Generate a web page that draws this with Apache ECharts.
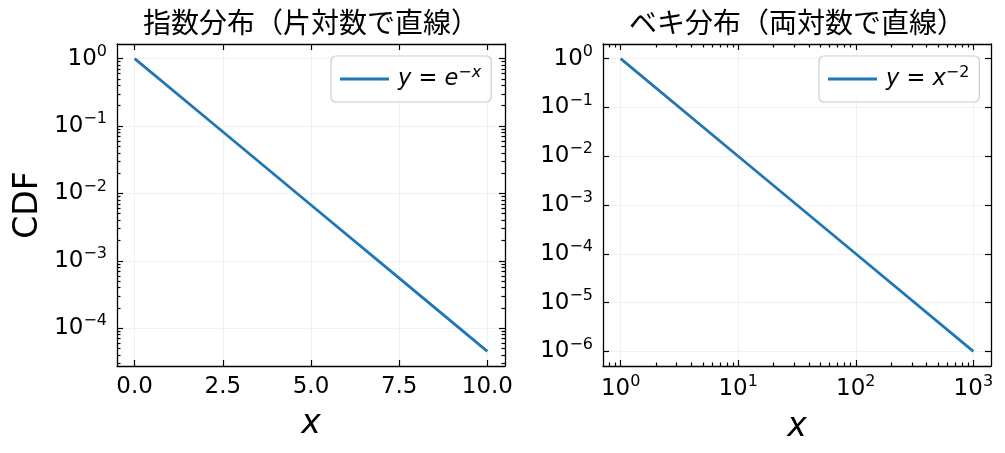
<!DOCTYPE html>
<html>
<head>
<meta charset="utf-8">
<script src="https://cdn.jsdelivr.net/npm/echarts@6/dist/echarts.min.js"></script>
<style>html,body{margin:0;padding:0;background:#fff}#c{width:1005px;height:453px}</style>
</head>
<body>
<div id="c"></div>
<script>
// ---- data ----
const expX = [0, 2.5, 5, 7.5, 10];
const expY = [1, 0.0821, 0.00674, 0.000553, 0.0000454];
const powX = [1, 10, 100, 1000];
const powY = [1, 0.01, 0.0001, 0.000001];

// ---- tick values ----
const leftXTicks = [0, 2.5, 5, 7.5, 10];
const leftYTicks = [1e-4, 1e-3, 1e-2, 1e-1, 1];
const rightXTicks = [1, 10, 100, 1000];
const rightYTicks = [1e-6, 1e-5, 1e-4, 1e-3, 1e-2, 1e-1, 1];
const minorMult = [2, 3, 4, 5, 6, 7, 8, 9];

const titles = ['指数分布（片対数で直線）', 'ベキ分布（両対数で直線）'];
const seriesNames = ['y = e^{-x}', 'y = x^{-2}'];
const legendRich = {
  'y = e^{-x}': '{p|}{i|y} = {i|e}{s|−x}',
  'y = x^{-2}': '{p|}{i|y} = {i|x}{t|−2}'
};

// ranges
const leftXRange = [-0.5, 10.5];
const leftYRange = [2.75e-5, 1.648];
const rightXRange = [0.708, 1413];
const rightYRange = [5.01e-7, 1.995];

function minors(majorsDecades, lo, hi) {
  const out = [];
  majorsDecades.forEach(d => minorMult.forEach(m => {
    const v = Number((m * Math.pow(10, d)).toPrecision(3));
    if (v > lo && v < hi) out.push(v);
  }));
  return out;
}
const leftYMinor = minors([-5, -4, -3, -2, -1, 0], leftYRange[0], leftYRange[1]);
const rightXMinor = minors([-1, 0, 1, 2, 3], rightXRange[0], rightXRange[1]);

const FONT = 'DejaVu Sans';
const BLACK = '#000';
const GRIDC = '#f1f1f1';
const TF = 23;
const SF = 16;

function logLabel(v) {
  const e = Math.round(Math.log10(v));
  return '{b|10}{s|' + (e < 0 ? '−' : '') + Math.abs(e) + '}';
}
const labelRich = {
  b: { fontFamily: FONT, fontSize: TF, color: BLACK, lineHeight: 30 },
  s: { fontFamily: FONT, fontSize: SF, color: BLACK, lineHeight: 14, verticalAlign: 'top' }
};

function axisBase(o) {
  return Object.assign({
    axisLine: { show: true, onZero: false, lineStyle: { color: BLACK, width: 1.3 } },
    axisTick: { show: true, inside: true, length: 6, lineStyle: { color: BLACK, width: 1.2 } },
    axisLabel: { show: false },
    splitLine: { show: false },
    splitArea: { show: false },
    minorTick: { show: false },
    minorSplitLine: { show: false }
  }, o);
}
function ticks(vals, len) {
  return { show: true, inside: true, length: len, customValues: vals, lineStyle: { color: BLACK, width: 1.2 } };
}

const xAxes = [
  axisBase({ gridIndex: 0, type: 'value', position: 'bottom', min: leftXRange[0], max: leftXRange[1],
    axisTick: ticks(leftXTicks, 6),
    axisLabel: { show: true, customValues: leftXTicks, margin: 10, fontFamily: FONT, fontSize: TF, color: BLACK,
      formatter: v => v.toFixed(1) },
    splitLine: { show: true, lineStyle: { color: GRIDC, width: 1 } },
    name: 'x', nameLocation: 'middle', nameGap: 42,
    nameTextStyle: { fontFamily: FONT, fontStyle: 'italic', fontSize: 33, color: BLACK } }),
  axisBase({ gridIndex: 0, type: 'value', position: 'top', min: leftXRange[0], max: leftXRange[1],
    axisTick: ticks(leftXTicks, 6) }),
  axisBase({ gridIndex: 1, type: 'log', position: 'bottom', min: rightXRange[0], max: rightXRange[1],
    axisTick: ticks(rightXTicks, 6),
    axisLabel: { show: true, customValues: rightXTicks, margin: 8, formatter: logLabel, rich: labelRich },
    splitLine: { show: true, lineStyle: { color: GRIDC, width: 1 } },
    name: 'x', nameLocation: 'middle', nameGap: 45,
    nameTextStyle: { fontFamily: FONT, fontStyle: 'italic', fontSize: 33, color: BLACK } }),
  axisBase({ gridIndex: 1, type: 'log', position: 'bottom', min: rightXRange[0], max: rightXRange[1],
    axisLine: { show: false, onZero: false }, axisTick: ticks(rightXMinor, 3.5) }),
  axisBase({ gridIndex: 1, type: 'log', position: 'top', min: rightXRange[0], max: rightXRange[1],
    axisTick: ticks(rightXTicks, 6) }),
  axisBase({ gridIndex: 1, type: 'log', position: 'top', min: rightXRange[0], max: rightXRange[1],
    axisLine: { show: false, onZero: false }, axisTick: ticks(rightXMinor, 3.5) })
];

const yAxes = [
  axisBase({ gridIndex: 0, type: 'log', position: 'left', min: leftYRange[0], max: leftYRange[1],
    axisTick: ticks(leftYTicks, 6),
    axisLabel: { show: true, customValues: leftYTicks, margin: 10, formatter: logLabel, rich: labelRich },
    splitLine: { show: true, lineStyle: { color: GRIDC, width: 1 } },
    name: 'CDF', nameLocation: 'middle', nameGap: 72, nameRotate: 90,
    nameTextStyle: { fontFamily: FONT, fontSize: 33, color: BLACK } }),
  axisBase({ gridIndex: 0, type: 'log', position: 'left', min: leftYRange[0], max: leftYRange[1],
    axisLine: { show: false, onZero: false }, axisTick: ticks(leftYMinor, 3.5) }),
  axisBase({ gridIndex: 0, type: 'log', position: 'right', min: leftYRange[0], max: leftYRange[1],
    axisTick: ticks(leftYTicks, 6) }),
  axisBase({ gridIndex: 0, type: 'log', position: 'right', min: leftYRange[0], max: leftYRange[1],
    axisLine: { show: false, onZero: false }, axisTick: ticks(leftYMinor, 3.5) }),
  axisBase({ gridIndex: 1, type: 'log', position: 'left', min: rightYRange[0], max: rightYRange[1],
    axisTick: ticks(rightYTicks, 6),
    axisLabel: { show: true, customValues: rightYTicks, margin: 10, formatter: logLabel, rich: labelRich },
    splitLine: { show: true, lineStyle: { color: GRIDC, width: 1 } } }),
  axisBase({ gridIndex: 1, type: 'log', position: 'right', min: rightYRange[0], max: rightYRange[1],
    axisTick: ticks(rightYTicks, 6) })
];

function legendCfg(i, left) {
  return {
    data: [{ name: seriesNames[i], icon: 'rect' }],
    left: left, top: 56, orient: 'vertical',
    itemWidth: 49, itemHeight: 2.8, itemGap: 0,
    padding: [9, 10, 9, 9],
    backgroundColor: 'rgba(255,255,255,0.8)',
    borderColor: '#cccccc', borderWidth: 1.2, borderRadius: 5,
    selectedMode: false,
    formatter: name => legendRich[name],
    textStyle: {
      fontFamily: FONT, fontSize: 22.5, color: BLACK, lineHeight: 28,
      rich: {
        p: { width: 4 },
        i: { fontFamily: FONT, fontStyle: 'italic', fontSize: 22.5, color: BLACK, lineHeight: 28 },
        s: { fontFamily: FONT, fontStyle: 'italic', fontSize: 16, color: BLACK, lineHeight: 14, verticalAlign: 'top' },
        t: { fontFamily: FONT, fontSize: 16, color: BLACK, lineHeight: 14, verticalAlign: 'top' }
      }
    }
  };
}

const chart = echarts.init(document.getElementById('c'), null, { renderer: 'canvas' });
chart.setOption({
  animation: false,
  backgroundColor: '#fff',
  title: [
    { text: titles[0], left: 311, top: 8, textAlign: 'center', padding: 0,
      textStyle: { fontFamily: 'Noto Sans CJK JP', fontSize: 28, fontWeight: 'normal', color: BLACK } },
    { text: titles[1], left: 797, top: 8, textAlign: 'center', padding: 0,
      textStyle: { fontFamily: 'Noto Sans CJK JP', fontSize: 28, fontWeight: 'normal', color: BLACK } }
  ],
  grid: [
    { left: 117, top: 44, width: 388, height: 322, containLabel: false },
    { left: 603, top: 44, width: 388, height: 322, containLabel: false }
  ],
  legend: [legendCfg(0, 331), legendCfg(1, 819)],
  xAxis: xAxes,
  yAxis: yAxes,
  series: [
    { name: seriesNames[0], type: 'line', xAxisIndex: 0, yAxisIndex: 0,
      data: expX.map((x, i) => [x, expY[i]]), showSymbol: false, symbol: 'none',
      lineStyle: { color: '#1f77b4', width: 2.8 }, itemStyle: { color: '#1f77b4' } },
    { name: seriesNames[1], type: 'line', xAxisIndex: 2, yAxisIndex: 4,
      data: powX.map((x, i) => [x, powY[i]]), showSymbol: false, symbol: 'none',
      lineStyle: { color: '#1f77b4', width: 2.8 }, itemStyle: { color: '#1f77b4' } }
  ]
});
</script>
</body>
</html>
